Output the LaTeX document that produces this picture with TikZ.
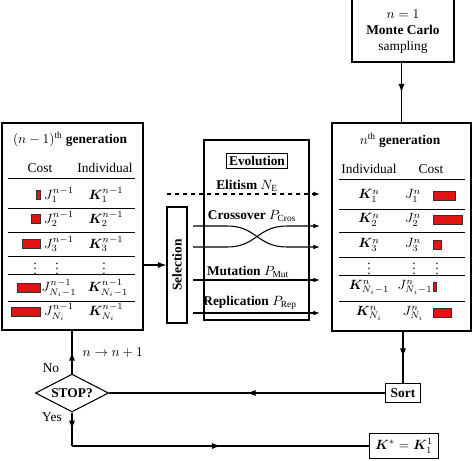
\documentclass[tikz,border=0pt]{standalone}
\usepackage{fontspec}
\setmainfont{Liberation Serif}
\usepackage{amsmath,bm}
\usetikzlibrary{arrows.meta,shapes.geometric,fit,decorations.markings}
\definecolor{costred}{RGB}{225,20,20}

\begin{document}
\begin{tikzpicture}[>={Latex[length=5pt,width=3.6pt]}, x=0.746pt, y=-0.746pt,
	box/.style={draw, line width=0.8pt, inner sep=0pt},
	cell/.style={inner sep=1pt},
	flow/.style={->, line width=0.8pt},
	midarrow/.style={line width=0.8pt, postaction={decorate,
		decoration={markings, mark=at position 0.5 with {\arrow{Latex[length=6.5pt,width=4.6pt]}}}}},
	rule/.style={line width=0.6pt},
	bar/.style={draw=black!80, fill=costred, line width=0.5pt}]
	\useasboundingbox (0,0) rectangle (474,460);

	% Start
	\node [box, fit={(352,-3) (454,62)}] (mc) {};
	\node [align=center] (mctext) at (403,32) {$n=1$\\ \textbf{Monte Carlo}\\ sampling};

	% Generations
	\node [box, fit={(2,123) (143,330)}] (prev) {};
	\node [box, fit={(332,123) (471,331)}] (next) {};

	% Previous generation {cost, individual}
	\node (prevtitle) at (70,139) {$(n-1)^{\mathrm{th}}$ \textbf{generation}};
	\node (prevcost) at (40,168) {Cost};
	\node (previnds) at (105,168) {Individual};
	\draw [rule] (8,178) -- (135,178);
	\foreach \y in {208,232,256,274,301}
		\draw [rule] (8,\y) -- (135,\y);
	\foreach \y/\w in {195/4, 219/9, 244/18, 288/23, 312/29}
		\draw [bar] (40-\w,\y-4.5) rectangle (40,\y+4.5);
	\node [cell] (pj1) at (59,195) {$J_1^{n-1}$};
	\node [cell] (pk1) at (106,195) {$\bm{K}_1^{n-1}$};
	\node [cell] (pj2) at (59,219) {$J_2^{n-1}$};
	\node [cell] (pk2) at (106,219) {$\bm{K}_2^{n-1}$};
	\node [cell] (pj3) at (59,244) {$J_3^{n-1}$};
	\node [cell] (pk3) at (106,244) {$\bm{K}_3^{n-1}$};
	\node [cell] (pd1) at (35,265) {$\vdots$};
	\node [cell] (pd2) at (57,265) {$\vdots$};
	\node [cell] (pd3) at (104,265) {$\vdots$};
	\node [cell] (pjm) at (59,288) {$J_{N_i-1}^{n-1}$};
	\node [cell] (pkm) at (108,288) {$\bm{K}_{N_i-1}^{n-1}$};
	\node [cell] (pjn) at (59,312) {$J_{N_i}^{n-1}$};
	\node [cell] (pkn) at (106,312) {$\bm{K}_{N_i}^{n-1}$};

	% Next generation {individual, cost}
	\node (nexttitle) at (400,140) {$n^{\mathrm{th}}$ \textbf{generation}};
	\node (nextinds) at (369,169) {Individual};
	\node (nextcost) at (431,169) {Cost};
	\draw [rule] (339,179) -- (465,179);
	\foreach \y in {209,232,257,275,301}
		\draw [rule] (339,\y) -- (465,\y);
	\foreach \y/\w in {196/22, 220/29, 245/8, 287/3, 313/18}
		\draw [bar] (433,\y-4.5) rectangle (433+\w,\y+4.5);
	\node [cell] (nk1) at (369,196) {$\bm{K}_1^{n}$};
	\node [cell] (nj1) at (413,196) {$J_1^{n}$};
	\node [cell] (nk2) at (369,220) {$\bm{K}_2^{n}$};
	\node [cell] (nj2) at (413,220) {$J_2^{n}$};
	\node [cell] (nk3) at (369,245) {$\bm{K}_3^{n}$};
	\node [cell] (nj3) at (413,245) {$J_3^{n}$};
	\node [cell] (nd1) at (369,265) {$\vdots$};
	\node [cell] (nd2) at (414,265) {$\vdots$};
	\node [cell] (nd3) at (437,265) {$\vdots$};
	\node [cell] (nkm) at (369,287) {$\bm{K}_{N_i-1}^{n}$};
	\node [cell] (njm) at (415,287) {$J_{N_i-1}^{n}$};
	\node [cell] (nkn) at (369,313) {$\bm{K}_{N_i}^{n}$};
	\node [cell] (njn) at (413,313) {$J_{N_i}^{n}$};

	% Selection and evolution
	\node [box, fit={(167,207) (187,323)}] (sel) {};
	\node [rotate=90] (seltext) at (sel.center) {\textbf{Selection}};
	\node [box, fit={(204,140) (309,320)}] (evo) {};
	\node [draw, line width=0.8pt, inner sep=2pt] (evotitle) at (257,161) {\textbf{Evolution}};
	\node [cell] (elit) at (247,186) {\textbf{Elitism} $N_{\mathrm{E}}$};
	\node [cell] (cros) at (252,216) {\textbf{Crossover} $P_{\mathrm{Cros}}$};
	\node [cell] (mut) at (248,272) {\textbf{Mutation} $P_{\mathrm{Mut}}$};
	\node [cell] (rep) at (250,303) {\textbf{Replication} $P_{\mathrm{Rep}}$};

	\coordinate (e0) at (167,194);  \coordinate (e1) at (320,194);
	\coordinate (c0) at (193,226);  \coordinate (c1) at (320,226);
	\coordinate (d0) at (193,247);  \coordinate (d1) at (320,247);
	\coordinate (m0) at (193,280);  \coordinate (m1) at (320,280);
	\coordinate (r0) at (193,313);  \coordinate (r1) at (320,313);

	% Paths
	\draw [flow, dashed] (e0) -- (e1);
	\draw [flow] (c0) -- (227,226) .. controls (257,226) and (257,247) .. (287,247) -- (d1);
	\draw [flow] (d0) -- (227,247) .. controls (257,247) and (257,226) .. (287,226) -- (c1);
	\draw [flow] (m0) -- (m1);
	\draw [flow] (r0) -- (r1);
	\draw [flow, >={Latex[length=6.5pt,width=4.6pt]}] (prev.east |- sel.west) -- (sel.west);
	\draw [midarrow] (mc.south -| next.north) -- (next.north);

	% Loop
	\node [box, inner sep=4pt] (sort) at (403,393) {\textbf{Sort}};
	\node [diamond, draw, line width=0.8pt, inner sep=0pt, aspect=1.9,
		minimum width=54.5pt, minimum height=28.3pt] (stop) at (72,393) {\textbf{STOP?}};
	\node [box, inner sep=4pt] (res) at (404,446) {$\bm{K}^{*}=\bm{K}_1^{1}$};

	\draw [midarrow] (sort.north |- next.south) -- (sort.north);
	\draw [midarrow] (sort.west) -- (stop.east);
	\draw [midarrow] (stop.north) -- (stop.north |- prev.south);
	\draw [midarrow] (stop.south) -- (stop.south |- res.west);
	\draw [midarrow] (stop.south |- res.west) -- (res.west);
	\node [anchor=west] (inc) at (78,353) {$n\rightarrow n+1$};
	\node (no) at (51,368) {No};
	\node (yes) at (52,417) {Yes};
\end{tikzpicture}
\end{document}
